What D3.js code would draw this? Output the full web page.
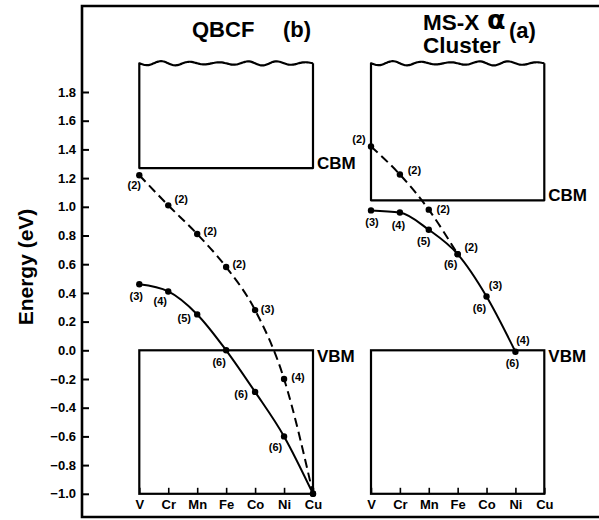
<!DOCTYPE html>
<html>
<head>
<meta charset="utf-8">
<script src="https://cdn.jsdelivr.net/npm/d3@7"></script>
<style>
body { margin: 0; background: white; }
text { font-family: "Liberation Sans", Arial, sans-serif; font-weight: bold; fill: black; }
</style>
</head>
<body>
<div id="chart"></div>
<script>
// element axis
const elements = ["V", "Cr", "Mn", "Fe", "Co", "Ni", "Cu"];
const energyTicks = [-1.0, -0.8, -0.6, -0.4, -0.2, 0.0, 0.2, 0.4, 0.6, 0.8, 1.0, 1.2, 1.4, 1.6, 1.8];

// QBCF (b) panel
const qbcfValence = [0.46, 0.41, 0.25, 0.0, -0.29, -0.60, -1.0];
const qbcfValenceDeg = ["(3)", "(4)", "(5)", "(6)", "(6)", "(6)", ""];
const qbcfConduction = [1.22, 1.01, 0.81, 0.58, 0.28, -0.20, -1.0];
const qbcfConductionDeg = ["(2)", "(2)", "(2)", "(2)", "(3)", "(4)", ""];
const qbcfCBM = 1.27;

// MS-X alpha cluster (a) panel
const msxValence = [0.975, 0.96, 0.84, 0.67, 0.375, -0.01];
const msxValenceDeg = ["(3)", "(4)", "(5)", "(6)", "(6)", "(6)"];
const msxConduction = [1.42, 1.225, 0.98, 0.67, 0.375, -0.01];
const msxConductionDeg = ["(2)", "(2)", "(2)", "(2)", "(3)", "(4)"];
const msxCBM = 1.045;

const VBM = 0.0, bandBottom = -1.0, bandTop = 2.0;

// label offsets (px) from each dot
const qbcfValOff = [[-3, 12], [-8, 10], [-13, 4], [-7, 11.5], [-14, 2], [-8.5, 11], [0, 0]];
const qbcfCondOff = [[-5, 10], [13, -6], [13, -3], [13, -3], [12.5, -1], [14, -2], [0, 0]];
const msxValOff = [[1, 11.5], [-1.5, 13], [-5, 11.5], [-7, 10], [-7, 11.5], [-3, 11.5]];
const msxCondOff = [[-12, -7.5], [14.5, -4.5], [14.5, -1], [13.5, -7], [9, -11], [7.5, -11.5]];

const width = 599, height = 520;

const svg = d3.select("#chart").append("svg")
  .attr("width", width)
  .attr("height", height);

const y = d3.scaleLinear()
  .domain([-1, 1.8])
  .range([493.8, 92]);

// outer frame (left, top, bottom)
svg.append("path")
  .attr("d", `M${width},6 H82 V517 H${width}`)
  .attr("fill", "none")
  .attr("stroke", "black")
  .attr("stroke-width", 2.6);

// energy axis
const yAxis = d3.axisLeft(y)
  .tickValues(energyTicks)
  .tickFormat(d3.format(".1f"))
  .tickSizeInner(-7)
  .tickSizeOuter(0)
  .tickPadding(6);

const yg = svg.append("g")
  .attr("transform", "translate(82,0)")
  .call(yAxis);
yg.select(".domain").remove();
yg.selectAll("line").attr("stroke", "black").attr("stroke-width", 2);
yg.selectAll("text")
  .style("font-family", "'Liberation Sans', Arial, sans-serif")
  .style("font-weight", "bold")
  .style("font-size", "13px")
  .attr("fill", "black");

svg.append("text")
  .attr("transform", "translate(33,267) rotate(-90)")
  .attr("text-anchor", "middle")
  .style("font-size", "21px")
  .text("Energy (eV)");

function panel(x0, x1, cbm, valence, valDeg, valOff, cond, condDeg, condOff, condLineEnd) {
  const x = d3.scalePoint().domain(elements).range([x0, x1]);
  const g = svg.append("g");

  // element axis on the valence box bottom
  const xAxis = d3.axisBottom(x)
    .tickSizeInner(-6)
    .tickSizeOuter(0)
    .tickPadding(5.5);
  const xg = g.append("g")
    .attr("transform", `translate(0,${y(bandBottom)})`)
    .call(xAxis);
  xg.select(".domain").remove();
  xg.selectAll("line").attr("stroke", "black").attr("stroke-width", 1.6);
  xg.selectAll("text")
    .style("font-family", "'Liberation Sans', Arial, sans-serif")
    .style("font-weight", "bold")
    .style("font-size", "13px")
    .attr("fill", "black");

  // valence band box
  g.append("rect")
    .attr("x", x0).attr("y", y(VBM))
    .attr("width", x1 - x0).attr("height", y(bandBottom) - y(VBM))
    .attr("fill", "none").attr("stroke", "black").attr("stroke-width", 2.2);

  // conduction band box with wavy top
  const step = x.step();
  const wave = d3.range(0, 1.0001, 1 / 120).map(t => {
    const px = x0 + t * (x1 - x0);
    const amp = 1.6 + 0.6 * Math.sin(t * 11);
    return [px, y(bandTop) + amp * Math.sin((px - x0) / step * 2 * Math.PI)];
  });
  const wavePath = d3.line().curve(d3.curveBasis)(wave);
  g.append("path")
    .attr("d", `M${x1},${y(bandTop)} V${y(cbm)} H${x0} V${y(bandTop)}` + wavePath.replace(/^M[^LC]*/, "L" + wave[0][0] + "," + wave[0][1]))
    .attr("fill", "none").attr("stroke", "black").attr("stroke-width", 2.2)
    .attr("stroke-linejoin", "round");

  g.append("text")
    .attr("x", x1 + 4).attr("y", y(cbm) + 0.5)
    .style("font-size", "17px")
    .text("CBM");
  g.append("text")
    .attr("x", x1 + 4).attr("y", y(VBM) + 12)
    .style("font-size", "17px")
    .text("VBM");

  const line = d3.line()
    .x((d, i) => x(elements[i]))
    .y(d => y(d))
    .curve(d3.curveMonotoneX);

  g.append("path")
    .attr("d", line(cond.slice(0, condLineEnd)))
    .attr("fill", "none").attr("stroke", "black").attr("stroke-width", 2)
    .attr("stroke-dasharray", "9,5");
  g.append("path")
    .attr("d", line(valence))
    .attr("fill", "none").attr("stroke", "black").attr("stroke-width", 2);

  g.selectAll(".dv").data(valence).enter().append("circle")
    .attr("cx", (d, i) => x(elements[i])).attr("cy", d => y(d)).attr("r", 3.2);
  g.selectAll(".dc").data(cond.slice(0, condLineEnd)).enter().append("circle")
    .attr("cx", (d, i) => x(elements[i])).attr("cy", d => y(d)).attr("r", 3.2);

  g.selectAll(".lv").data(valence).enter().append("text")
    .attr("x", (d, i) => x(elements[i]) + valOff[i][0])
    .attr("y", (d, i) => y(d) + valOff[i][1])
    .attr("dy", "0.35em")
    .attr("text-anchor", "middle")
    .style("font-size", "11px")
    .text((d, i) => valDeg[i]);
  g.selectAll(".lc").data(cond).enter().append("text")
    .attr("x", (d, i) => x(elements[i]) + condOff[i][0])
    .attr("y", (d, i) => y(d) + condOff[i][1])
    .attr("dy", "0.35em")
    .attr("text-anchor", "middle")
    .style("font-size", "11px")
    .text((d, i) => condDeg[i]);
}

panel(139.3, 313, qbcfCBM, qbcfValence, qbcfValenceDeg, qbcfValOff,
  qbcfConduction, qbcfConductionDeg, qbcfCondOff, qbcfConduction.length);
panel(371, 544.3, msxCBM, msxValence, msxValenceDeg, msxValOff,
  msxConduction, msxConductionDeg, msxCondOff, 4);

// titles
svg.append("text").attr("x", 192).attr("y", 37).style("font-size", "22px").text("QBCF");
svg.append("text").attr("x", 283).attr("y", 37).style("font-size", "22px").text("(b)");

svg.append("text").attr("x", 423).attr("y", 29.5).style("font-size", "22.5px").text("MS-X");
svg.append("text").attr("x", 487).attr("y", 29)
  .style("font-family", "'DejaVu Sans', sans-serif")
  .style("font-size", "27px")
  .text("α");
svg.append("text").attr("x", 509).attr("y", 38).style("font-size", "22px").text("(a)");
svg.append("text").attr("x", 423).attr("y", 53).style("font-size", "22.5px").text("Cluster");
</script>
</body>
</html>
